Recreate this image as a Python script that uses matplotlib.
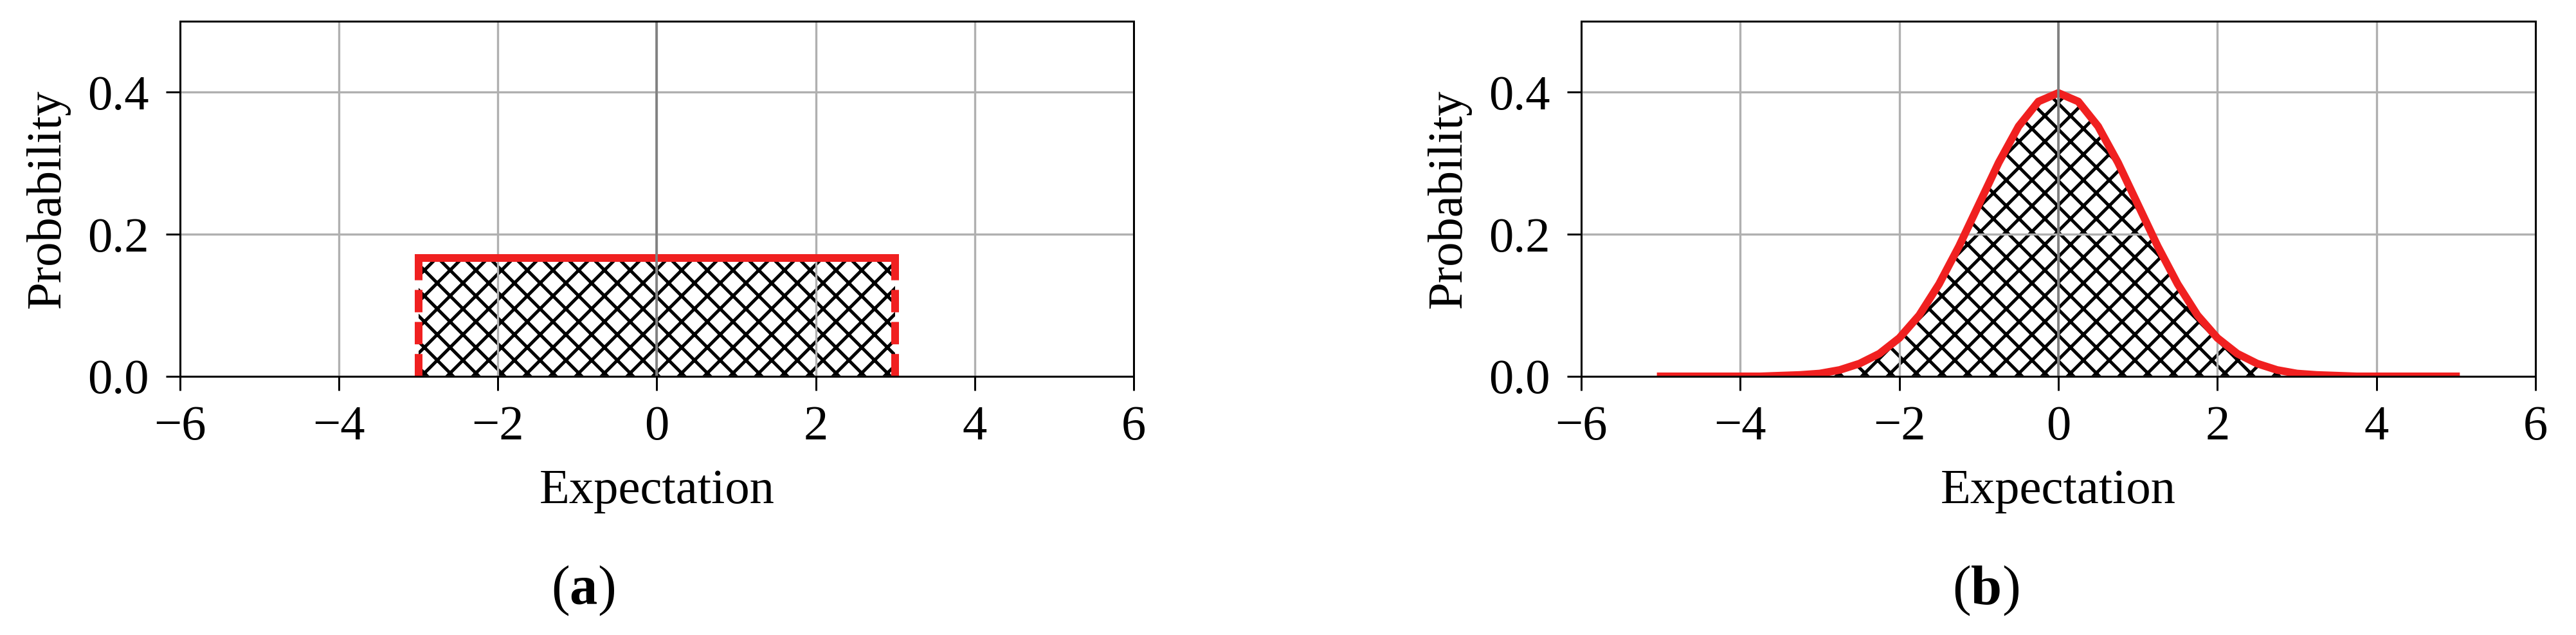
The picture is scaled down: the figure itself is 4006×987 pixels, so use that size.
import matplotlib
matplotlib.use('Agg')
import matplotlib.pyplot as plt
import numpy as np

plt.rcParams['font.family'] = ['Liberation Serif', 'DejaVu Serif']
plt.rcParams['mathtext.fontset'] = 'custom'
plt.rcParams['mathtext.rm'] = 'Liberation Serif'
plt.rcParams['mathtext.bf'] = 'Liberation Serif:bold'
plt.rcParams['hatch.linewidth'] = 1.5

# panel (a): uniform distribution
uni_x = [-3.0, 3.0]
uni_p = 0.1667

# panel (b): normal curve
norm_x = [-5.0, -4.75, -4.5, -4.25, -4.0, -3.75, -3.5, -3.25, -3.0, -2.75,
          -2.5, -2.25, -2.0, -1.75, -1.5, -1.25, -1.0, -0.75, -0.5, -0.25,
          0.0, 0.25, 0.5, 0.75, 1.0, 1.25, 1.5, 1.75, 2.0, 2.25,
          2.5, 2.75, 3.0, 3.25, 3.5, 3.75, 4.0, 4.25, 4.5, 4.75, 5.0]
norm_p = [0.000, 0.000, 0.000, 0.000, 0.000, 0.000, 0.001, 0.002, 0.004, 0.009,
          0.018, 0.032, 0.054, 0.086, 0.130, 0.183, 0.242, 0.301, 0.352, 0.387,
          0.399, 0.387, 0.352, 0.301, 0.242, 0.183, 0.130, 0.086, 0.054, 0.032,
          0.018, 0.009, 0.004, 0.002, 0.001, 0.000, 0.000, 0.000, 0.000, 0.000, 0.000]

xticks = [-6, -4, -2, 0, 2, 4, 6]
yticks = [0.0, 0.2, 0.4]
panel_labels = [r'($\mathbf{a}$)', r'($\mathbf{b}$)']

RED = '#f02020'
W, H, DPI = 4006, 987, 240
FS = 23


def style_axes(ax):
    ax.set_xlim(-6, 6)
    ax.set_ylim(0, 0.5)
    ax.set_xticks(xticks)
    ax.set_yticks(yticks)
    ax.grid(True, color='#b0b0b0', linewidth=1.0)
    ax.axvline(0, color='#808080', linewidth=1.1, zorder=2.4)
    ax.tick_params(axis='both', length=6.6, width=0.9, labelsize=FS)
    ax.tick_params(axis='x', pad=7)
    ax.tick_params(axis='y', pad=8)
    for s in ax.spines.values():
        s.set_linewidth(0.9)
    ax.set_xlabel('Expectation', fontsize=FS, labelpad=9)
    ax.set_ylabel('Probability', fontsize=FS, labelpad=8)


fig = plt.figure(figsize=(W / DPI, H / DPI), dpi=DPI)
ax1 = fig.add_axes([280 / W, 1 - 585 / H, 1483 / W, 552 / H])
ax2 = fig.add_axes([2459 / W, 1 - 585 / H, 1484 / W, 552 / H])

# (a) uniform
ax1.fill_between(uni_x, [uni_p, uni_p], 0, facecolor='none', edgecolor='black',
                 hatch='xx', linewidth=0, zorder=1)
ax1.plot(uni_x, [uni_p, uni_p], color=RED, lw=3.6, solid_capstyle='projecting', zorder=2.2)
for xv in uni_x:
    ax1.plot([xv, xv], [0, uni_p], color=RED, lw=3.6, ls=(0, (2.9, 1.25)),
             dash_capstyle='butt', zorder=2.2)
style_axes(ax1)

# (b) normal
ax2.fill_between(norm_x, norm_p, 0, facecolor='none', edgecolor='black',
                 hatch='xx', linewidth=0, zorder=1)
ax2.plot(norm_x, norm_p, color=RED, lw=3.6, zorder=2.2)
style_axes(ax2)

fig.text(907 / W, 1 - 918 / H, panel_labels[0], fontsize=26, ha='center', va='center')
fig.text(3088 / W, 1 - 918 / H, panel_labels[1], fontsize=26, ha='center', va='center')

fig.savefig('out.png', dpi=DPI, facecolor='white')
